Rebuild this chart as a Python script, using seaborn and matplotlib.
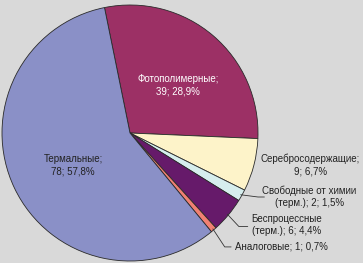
import matplotlib
matplotlib.use("Agg")
import matplotlib.pyplot as plt
import seaborn as sns
import numpy as np

sns.set_style("white")
plt.rcParams['font.family'] = ['Liberation Sans', 'DejaVu Sans']

categories = ["Фотополимерные", "Серебросодержащие", "Свободные от химии (терм.)",
              "Беспроцессные (терм.)", "Аналоговые", "Термальные"]
values = [39, 9, 2, 6, 1, 78]
percents = ["28,9%", "6,7%", "1,5%", "4,4%", "0,7%", "57,8%"]
colors = ["#9C3065", "#FDF3C9", "#D6EEEE", "#661A6A", "#F08072", "#8A90C7"]

bg = "#D9D9D9"
fig = plt.figure(figsize=(3.63, 2.63), dpi=100, facecolor=bg)
ax = fig.add_axes([2/363, 2/263, 256/363, 256/263])
ax.set_facecolor(bg)

wedges, _ = ax.pie(values, colors=colors, startangle=101.5, counterclock=False,
                   radius=1.0, wedgeprops=dict(edgecolor="#2a2a2a", linewidth=0.6))
ax.set_xlim(-1.0, 1.0)
ax.set_ylim(-1.0, 1.0)
ax.set_aspect("equal")
ax.axis("off")

fs = 7
# inside labels
ax.text(0.375, 0.375, f"{categories[0]};\n{values[0]}; {percents[0]}", color="white",
        ha="center", va="center", fontsize=fs, linespacing=1.3)
ax.text(-0.445, -0.25, f"{categories[5]};\n{values[5]}; {percents[5]}", color="#222222",
        ha="center", va="center", fontsize=fs, linespacing=1.3)

# outside labels
ax.text(1.41, -0.25, f"{categories[1]};\n{values[1]}; {percents[1]}", color="#222222",
        ha="center", va="center", fontsize=fs, linespacing=1.3, clip_on=False)
ax.text(1.40, -0.5, f"Свободные от химии\n(терм.); {values[2]}; {percents[2]}", color="#222222",
        ha="center", va="center", fontsize=fs, linespacing=1.3, clip_on=False)
ax.text(1.22, -0.72, f"Беспроцессные\n(терм.); {values[3]}; {percents[3]}", color="#222222",
        ha="center", va="center", fontsize=fs, linespacing=1.3, clip_on=False)
ax.text(1.18, -0.89, f"{categories[4]}; {values[4]}; {percents[4]}", color="#222222",
        ha="center", va="center", fontsize=fs, clip_on=False)

# leader lines from wedge edges
def edge_point(w, r=0.99):
    th = np.deg2rad((w.theta1 + w.theta2) / 2)
    return r * np.cos(th), r * np.sin(th)

leaders = {2: [(1.0, -0.5), (1.05, -0.5)],
           3: [(0.85, -0.73), (0.92, -0.73)],
           4: [(0.74, -0.89), (0.79, -0.89)]}
for i, pts in leaders.items():
    x0, y0 = edge_point(wedges[i])
    xs = [x0] + [p[0] for p in pts]
    ys = [y0] + [p[1] for p in pts]
    ax.plot(xs, ys, color="#333333", lw=0.6, clip_on=False)

fig.savefig("out.png", dpi=100, facecolor=bg)
